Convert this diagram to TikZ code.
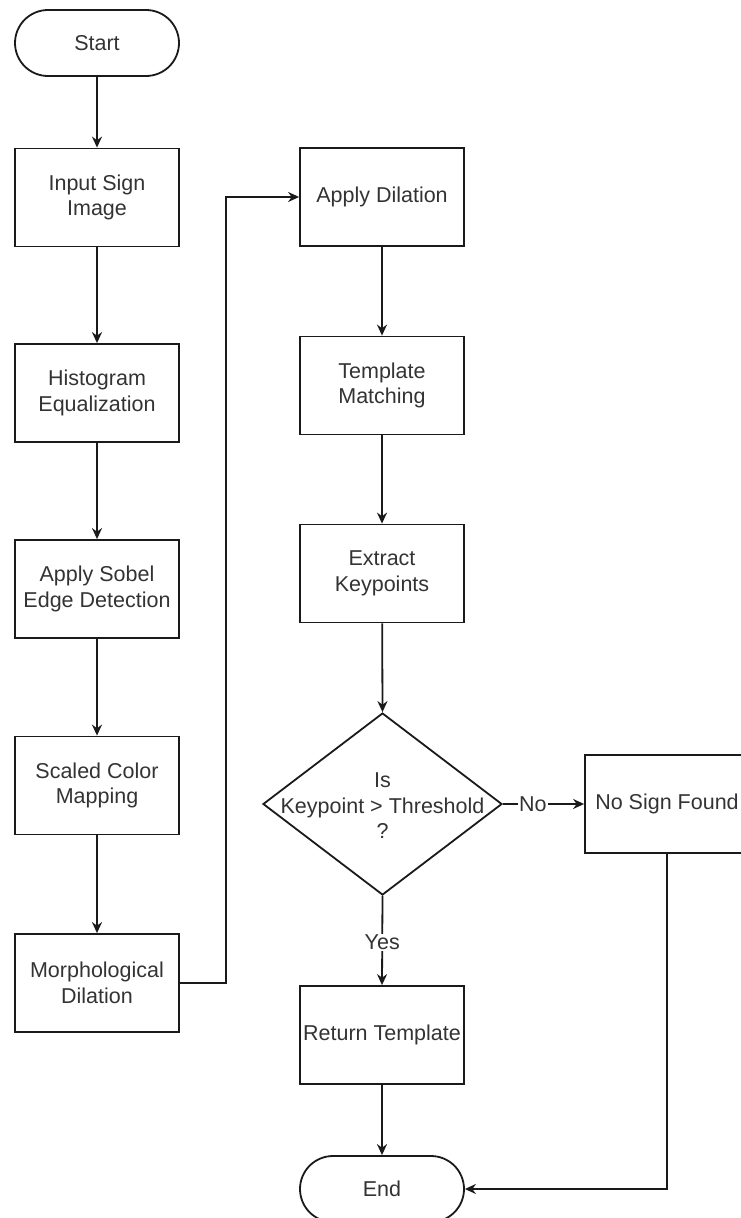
\documentclass[tikz,border=0pt]{standalone}
\usepackage{fontspec}
\setmainfont{Liberation Sans}
\usetikzlibrary{shapes.geometric,shapes.misc,arrows.meta}
\definecolor{txt}{HTML}{333333}
\definecolor{ln}{HTML}{1A1A1A}
\tikzset{
  every node/.style={font=\fontsize{21.5}{25.5}\selectfont, text=txt},
  proc/.style={draw=ln, line width=1.8pt, rectangle, minimum width=164pt, minimum height=98pt, inner sep=0pt, align=center},
  term/.style={draw=ln, line width=1.8pt, rounded rectangle, minimum width=164pt, minimum height=66pt, inner sep=0pt},
  decis/.style={draw=ln, line width=1.8pt, diamond, minimum width=239pt, minimum height=182pt, inner sep=0pt},
  arr/.style={draw=ln, line width=1.8pt, -{Stealth[length=11pt,width=10pt]}},
  lab/.style={fill=white, inner sep=1pt}
}
\begin{document}
\begin{tikzpicture}[x=1pt,y=-1pt]
\useasboundingbox (0,0) rectangle (741,1218);
\node[term] (start) at (97,43) {Start};
\node[proc] (inp) at (97,197.5) {Input Sign\\Image};
\node[proc] (hist) at (97,393) {Histogram\\Equalization};
\node[proc] (sobel) at (97,589) {Apply Sobel\\Edge Detection};
\node[proc] (scaled) at (97,785.5) {Scaled Color\\Mapping};
\node[proc] (morph) at (97,983) {Morphological\\Dilation};
\node[proc] (ad) at (382,197) {Apply Dilation};
\node[proc] (tm) at (382,385.5) {Template\\Matching};
\node[proc] (ek) at (382,573.5) {Extract\\Keypoints};
\node[decis] (dec) at (382.5,804) {};
\node[align=center, inner sep=0pt] (dect) at (382.5,806) {Is\\Keypoint > Threshold\\?};
\node[proc] (nsf) at (667,804) {No Sign Found};
\node[proc] (ret) at (382,1035) {Return Template};
\node[term] (end) at (382,1189) {End};

\draw[arr] (start) -- (inp);
\draw[arr] (inp) -- (hist);
\draw[arr] (hist) -- (sobel);
\draw[arr] (sobel) -- (scaled);
\draw[arr] (scaled) -- (morph);
\draw[arr] (morph.east) -- ++(46,0) |- (ad.west);
\draw[arr] (ad) -- (tm);
\draw[arr] (tm) -- (ek);
\draw[arr] (ek) -- (dec.north);
\draw[arr] (dec.east) -- node[lab, pos=0.37] (no) {No} (nsf.west);
\draw[arr] (dec.south) -- node[lab, pos=0.52] (yes) {Yes} (ret.north);
\draw[arr] (ret) -- (end);
\draw[arr] (nsf.south) |- (end.east);
\end{tikzpicture}
\end{document}
